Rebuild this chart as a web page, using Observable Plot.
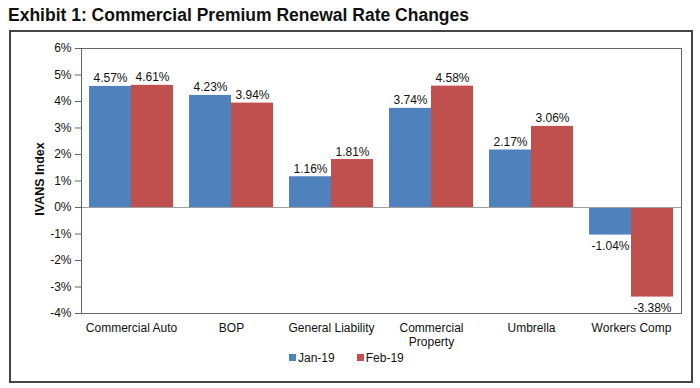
<!DOCTYPE html>
<html>
<head>
<meta charset="utf-8">
<script src="https://cdn.jsdelivr.net/npm/d3@7"></script>
<script src="https://cdn.jsdelivr.net/npm/@observablehq/plot@0.6"></script>
<style>
  body { margin: 0; background: #fff; font-family: "Liberation Sans", Arial, sans-serif; }
  #wrap { position: relative; width: 700px; height: 388px; overflow: hidden; }
  #title { position: absolute; left: 8px; top: 5px; font-weight: bold; font-size: 17.5px; color: #111; white-space: nowrap; }
  #box { position: absolute; left: 9px; top: 30px; width: 680px; height: 349px; border: 2px solid #444; pointer-events: none; }
  #ylabel { position: absolute; left: 40px; top: 179px; transform: translate(-50%, -50%) rotate(-90deg); font-weight: bold; font-size: 12.5px; color: #111; white-space: nowrap; }
  #legend { position: absolute; top: 351px; left: 289px; font-size: 12px; color: #111; display: flex; gap: 22px; }
  #legend span.sw { display: inline-block; width: 7px; height: 7px; margin-right: 2px; vertical-align: 1px; }
  #chart { position: absolute; left: 0; top: 0; }
</style>
</head>
<body>
<div id="wrap">
  <div id="chart"></div>
  <div id="title">Exhibit 1: Commercial Premium Renewal Rate Changes</div>
  <div id="ylabel">IVANS Index</div>
  <div id="legend"></div>
  <div id="box"></div>
</div>
<script>
const categories = ["Commercial Auto", "BOP", "General Liability", "Commercial\nProperty", "Umbrella", "Workers Comp"];
const series = ["Jan-19", "Feb-19"];
const jan19 = [4.57, 4.23, 1.16, 3.74, 2.17, -1.04];
const feb19 = [4.61, 3.94, 1.81, 4.58, 3.06, -3.38];
const yTicks = [-4, -3, -2, -1, 0, 1, 2, 3, 4, 5, 6];
const colors = ["#4F81BD", "#C0504D"];

const table = [];
categories.forEach((c, i) => {
  table.push({cat: c, series: series[0], value: jan19[i]});
  table.push({cat: c, series: series[1], value: feb19[i]});
});

const fmt = v => v.toFixed(2) + "%";

const chart = Plot.plot({
  width: 700,
  height: 388,
  marginLeft: 79,
  marginRight: 18,
  marginTop: 48,
  marginBottom: 75,
  style: {background: "transparent", fontFamily: "'Liberation Sans', Arial, sans-serif", fontSize: "12px", color: "#111"},
  fx: {domain: categories, padding: 0, label: null, axis: null},
  x: {domain: series, paddingInner: 0, paddingOuter: 0.17, axis: null},
  y: {domain: [-4, 6], axis: null},
  color: {domain: series, range: colors},
  marks: [
    Plot.barY(table, {fx: "cat", x: "series", y: "value", fill: "series"}),
    Plot.ruleY(categories.map(c => ({cat: c, v: 0})), {fx: "cat", y: "v", stroke: "#a0a0a0", strokeWidth: 1}),
    Plot.frame({
      facet: "super", stroke: "#666", strokeWidth: 1,
      render(index, scales, values, dims, context, next) {
        const g = next(index, scales, values, dims, context);
        const ns = "http://www.w3.org/2000/svg";
        const fx = scales.fx, y0 = scales.y(0);
        for (const c of fx.domain().slice(1)) {
          const l = document.createElementNS(ns, "line");
          const xx = fx(c);
          l.setAttribute("x1", xx); l.setAttribute("x2", xx);
          l.setAttribute("y1", y0); l.setAttribute("y2", y0 + 4);
          l.setAttribute("stroke", "#a0a0a0");
          g.appendChild(l);
        }
        return g;
      }
    }),
    Plot.axisY({ticks: yTicks, tickFormat: d => d + "%", tickSize: 6, tickPadding: 4, fontSize: 12, label: null, stroke: "#666"}),
    Plot.axisFx({anchor: "bottom", tickSize: 0, tickPadding: 8, fontSize: 12, label: null, lineHeight: 1.2}),
    Plot.text(table.filter(d => d.value >= 0), {fx: "cat", x: "series", y: "value", text: d => fmt(d.value), lineAnchor: "bottom", dy: -4, fontSize: 12, fill: "#111"}),
    Plot.text(table.filter(d => d.value < 0), {fx: "cat", x: "series", y: "value", text: d => fmt(d.value), lineAnchor: "top", dy: 6, fontSize: 12, fill: "#111"})
  ]
});
document.getElementById("chart").appendChild(chart);

const legend = document.getElementById("legend");
series.forEach((s, i) => {
  const item = document.createElement("div");
  item.innerHTML = `<span class="sw" style="background:${colors[i]}"></span>${s}`;
  legend.appendChild(item);
});
</script>
</body>
</html>
